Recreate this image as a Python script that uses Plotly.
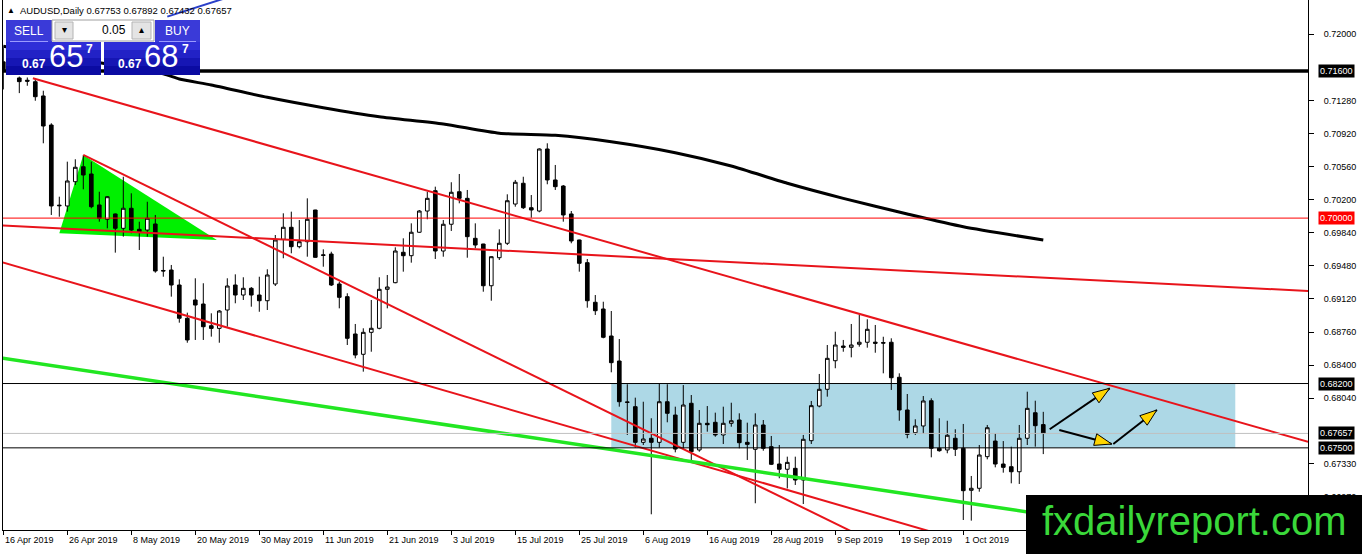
import numpy as np
import pandas as pd
import plotly.graph_objects as go

# AUDUSD daily bars (16 Apr 2019 .. 15 Oct 2019)
opens = [0.71700, 0.71750, 0.71525, 0.71500, 0.71484, 0.71329, 0.71013, 0.70141, 0.70132, 0.70396,
         0.70559, 0.70480, 0.70143, 0.69987, 0.70045, 0.69889, 0.70107, 0.69878, 0.69870, 0.69936,
         0.69430, 0.69435, 0.69272, 0.68910, 0.69109, 0.69065, 0.68829, 0.68800, 0.69000, 0.69272,
         0.69163, 0.69236, 0.69163, 0.69101, 0.69283, 0.69769, 0.69900, 0.69689, 0.69743, 0.70088,
         0.69600, 0.69609, 0.69283, 0.69145, 0.68739, 0.68518, 0.68757, 0.68801, 0.69225, 0.69297,
         0.69628, 0.69591, 0.69846, 0.70077, 0.70298, 0.69642, 0.69933, 0.70287, 0.70215, 0.69780,
         0.69718, 0.69264, 0.69569, 0.69726, 0.70153, 0.70379, 0.70113, 0.70077, 0.70752, 0.70415,
         0.70349, 0.70045, 0.69762, 0.69515, 0.69084, 0.69011, 0.68717, 0.68445, 0.68000, 0.67948,
         0.67560, 0.67604, 0.67560, 0.68002, 0.67857, 0.67560, 0.67985, 0.67477, 0.67767, 0.67778,
         0.67640, 0.67767, 0.67803, 0.67560, 0.67484, 0.67749, 0.67513, 0.67324, 0.67267, 0.67277,
         0.67150, 0.67578, 0.67955, 0.68137, 0.68448, 0.68608, 0.68594, 0.68627, 0.68649, 0.68650,
         0.68645, 0.68649, 0.68268, 0.67912, 0.67665, 0.67738, 0.68013, 0.67495, 0.67477, 0.67604,
         0.67495, 0.67038, 0.67060, 0.67404, 0.67574, 0.67324, 0.67295, 0.67240, 0.67604, 0.67882,
         0.67753]
highs = [0.71850, 0.72060, 0.71540, 0.71530, 0.71521, 0.71386, 0.71032, 0.70233, 0.70614, 0.70640,
         0.70687, 0.70614, 0.70287, 0.70240, 0.70050, 0.70450, 0.70270, 0.69961, 0.70178, 0.70034,
         0.69580, 0.69490, 0.69334, 0.68971, 0.69345, 0.69291, 0.68964, 0.69000, 0.69345, 0.69388,
         0.69356, 0.69250, 0.69362, 0.69443, 0.69816, 0.70052, 0.70070, 0.69979, 0.70215, 0.70090,
         0.69660, 0.69634, 0.69308, 0.69182, 0.68848, 0.68801, 0.69109, 0.69356, 0.69381, 0.69682,
         0.69780, 0.69943, 0.70088, 0.70287, 0.70342, 0.69979, 0.70390, 0.70480, 0.70306, 0.69943,
         0.69720, 0.69585, 0.69878, 0.70259, 0.70415, 0.70450, 0.70251, 0.70759, 0.70814, 0.70578,
         0.70360, 0.70077, 0.69765, 0.69555, 0.69163, 0.69090, 0.68989, 0.68684, 0.68192, 0.68046,
         0.68002, 0.67822, 0.68202, 0.68192, 0.67948, 0.68183, 0.68075, 0.67912, 0.67955, 0.67883,
         0.67948, 0.67991, 0.67876, 0.67774, 0.67876, 0.67803, 0.67629, 0.67531, 0.67404, 0.67404,
         0.67640, 0.68010, 0.68304, 0.68619, 0.68764, 0.68674, 0.68848, 0.68946, 0.68899, 0.68837,
         0.68709, 0.68692, 0.68311, 0.68086, 0.67811, 0.68064, 0.68039, 0.67822, 0.67795, 0.67702,
         0.67760, 0.67194, 0.67531, 0.67749, 0.67658, 0.67574, 0.67513, 0.67749, 0.68111, 0.68013,
         0.67892]
lows = [0.71400, 0.71570, 0.71360, 0.71440, 0.71277, 0.70814, 0.70034, 0.70015, 0.70070, 0.70360,
        0.70313, 0.70107, 0.69961, 0.69889, 0.69624, 0.69798, 0.69835, 0.69653, 0.69798, 0.69406,
        0.69362, 0.69145, 0.68862, 0.68644, 0.68674, 0.68674, 0.68710, 0.68644, 0.68818, 0.69073,
        0.69109, 0.69036, 0.68981, 0.69000, 0.69261, 0.69563, 0.69617, 0.69671, 0.69580, 0.69570,
        0.69471, 0.69261, 0.69018, 0.68619, 0.68474, 0.68329, 0.68546, 0.68790, 0.69018, 0.69291,
        0.69417, 0.69515, 0.69840, 0.69987, 0.69555, 0.69580, 0.69860, 0.70161, 0.69569, 0.69671,
        0.69199, 0.69101, 0.69544, 0.69707, 0.70124, 0.70099, 0.70004, 0.70063, 0.70368, 0.70306,
        0.69961, 0.69726, 0.69417, 0.69025, 0.68946, 0.68692, 0.68322, 0.67948, 0.67640, 0.67502,
        0.67531, 0.66777, 0.67502, 0.67778, 0.67451, 0.67495, 0.67357, 0.67458, 0.67676, 0.67621,
        0.67542, 0.67730, 0.67495, 0.67368, 0.66897, 0.67469, 0.67313, 0.67169, 0.67059, 0.67096,
        0.66889, 0.67542, 0.67941, 0.68057, 0.68366, 0.68546, 0.68485, 0.68601, 0.68590, 0.68535,
        0.68311, 0.68130, 0.67795, 0.67604, 0.67640, 0.67651, 0.67397, 0.67458, 0.67441, 0.67411,
        0.66715, 0.66708, 0.67023, 0.67375, 0.67288, 0.67230, 0.67114, 0.67107, 0.67531, 0.67513,
        0.67432]
closes = [0.71600, 0.71580, 0.71485, 0.71490, 0.71321, 0.71002, 0.70132, 0.70135, 0.70404, 0.70553,
          0.70469, 0.70124, 0.69998, 0.70233, 0.69889, 0.70107, 0.69870, 0.69852, 0.69998, 0.69424,
          0.69425, 0.69272, 0.68910, 0.68674, 0.69054, 0.68818, 0.68800, 0.68989, 0.69261, 0.69163,
          0.69236, 0.69163, 0.69101, 0.69381, 0.69762, 0.69900, 0.69689, 0.69743, 0.69987, 0.69573,
          0.69595, 0.69272, 0.69138, 0.68692, 0.68510, 0.68757, 0.68801, 0.69225, 0.69250, 0.69642,
          0.69591, 0.69846, 0.70077, 0.70215, 0.69642, 0.69933, 0.70281, 0.70215, 0.69798, 0.69707,
          0.69264, 0.69580, 0.69726, 0.70189, 0.70390, 0.70113, 0.70088, 0.70752, 0.70415, 0.70342,
          0.70034, 0.69751, 0.69508, 0.69101, 0.68992, 0.68703, 0.68427, 0.68002, 0.67995, 0.67560,
          0.67596, 0.67560, 0.68002, 0.67876, 0.67487, 0.67966, 0.67458, 0.67767, 0.67752, 0.67640,
          0.67767, 0.67795, 0.67556, 0.67538, 0.67749, 0.67495, 0.67321, 0.67267, 0.67342, 0.67150,
          0.67593, 0.67959, 0.68137, 0.68474, 0.68619, 0.68594, 0.68619, 0.68649, 0.68790, 0.68638,
          0.68640, 0.68263, 0.67912, 0.67647, 0.67738, 0.68010, 0.67495, 0.67469, 0.67637, 0.67484,
          0.67034, 0.67060, 0.67422, 0.67719, 0.67324, 0.67288, 0.67240, 0.67604, 0.67930, 0.67741,
          0.67657]

dates = pd.bdate_range("2019-04-16", periods=len(opens))
bars = np.arange(len(opens))

# moving average (thick black curve), read at a few bars
ma_bar = [0, 10, 20, 22, 26, 33, 40, 47, 55, 62, 69, 76, 84, 91, 98, 105, 113, 120, 130]
ma_val = [0.71870, 0.71720, 0.71570, 0.71514, 0.71448, 0.71314, 0.71201, 0.71103, 0.71024, 0.70923,
          0.70901, 0.70831, 0.70712, 0.70567, 0.70379, 0.70215, 0.70045, 0.69906, 0.69762]

# hand drawn trend lines: (bar, price) at both ends
red_lines = [
    ([3.7, 163.1], [0.71521, 0.67566]),
    ([-0.1, 163.1], [0.69920, 0.69207]),
    ([10, 163.1], [0.70687, 0.64156]),
    ([-0.1, 163.1], [0.69518, 0.65398]),
]
green_line = ([-0.1, 163.1], [0.68475, 0.66344])
blue_line = ([20.5, 28.0], [0.72192, 0.72400])

triangle_bar = [7.0, 10.0, 26.7]
triangle_px = [0.69835, 0.70687, 0.69762]

zone_bar = [76, 154]
zone_px = [0.67500, 0.68200]

arrow_from_bar = [130.8, 132.0, 138.75]
arrow_from_px = [0.67702, 0.67694, 0.67542]
arrow_to_bar = [138.3, 138.55, 144.2]
arrow_to_px = [0.68148, 0.67542, 0.67912]

# horizontal levels and their axis tags
level_px = [0.71600, 0.70000, 0.68200, 0.67657, 0.67500]
level_color = ["black", "red", "black", "#c0c0c0", "black"]
level_width = [3.5, 1, 1, 1, 1]
tag_bg = ["black", "red", "black", "black", "black"]

price_ticks = [0.72, 0.7128, 0.7092, 0.7056, 0.7020, 0.6984, 0.6948, 0.6912, 0.6876, 0.6840,
               0.6804, 0.6733, 0.6697]
date_ticks = ["2019-04-16", "2019-04-26", "2019-05-08", "2019-05-20", "2019-05-30", "2019-06-11",
              "2019-06-21", "2019-07-03", "2019-07-15", "2019-07-25", "2019-08-06", "2019-08-16",
              "2019-08-28", "2019-09-09", "2019-09-19", "2019-10-01"]
date_labels = ["16 Apr 2019", "26 Apr 2019", "8 May 2019", "20 May 2019", "30 May 2019",
               "11 Jun 2019", "21 Jun 2019", "3 Jul 2019", "15 Jul 2019", "25 Jul 2019",
               "6 Aug 2019", "16 Aug 2019", "28 Aug 2019", "9 Sep 2019", "19 Sep 2019", "1 Oct 2019"]
date_idx = [dates.get_loc(pd.Timestamp(d)) for d in date_ticks]

FONT = "Liberation Sans"
W, H = 1362, 554
PL, PR, PT, PB = 3, 1308, 0, 530
X_RANGE = [-0.0375, 163.09]
Y_RANGE = [0.666061, 0.723732]
PX_BAR = (PR - PL) / (X_RANGE[1] - X_RANGE[0])
PX_PRICE = (PB - PT) / (Y_RANGE[1] - Y_RANGE[0])


def fx(x):
    return (x - PL) / (PR - PL)


def fy(y):
    return (PB - y) / (PB - PT)


fig = go.Figure()

fig.add_trace(go.Candlestick(
    x=bars, open=opens, high=highs, low=lows, close=closes,
    increasing=dict(line=dict(color="black", width=1), fillcolor="white"),
    decreasing=dict(line=dict(color="black", width=1), fillcolor="black"),
    whiskerwidth=0, text=[d.strftime("%d %b %Y") for d in dates], hoverinfo="text+y",
))

fig.add_trace(go.Scatter(x=ma_bar, y=ma_val, mode="lines",
                         line=dict(color="black", width=3, shape="spline", smoothing=0.6)))
for xs, ys in red_lines:
    fig.add_trace(go.Scatter(x=xs, y=ys, mode="lines", line=dict(color="#e8141b", width=2)))
fig.add_trace(go.Scatter(x=green_line[0], y=green_line[1], mode="lines",
                         line=dict(color="#22e622", width=3.5)))
fig.add_trace(go.Scatter(x=blue_line[0], y=blue_line[1], mode="lines",
                         line=dict(color="#2a3fc8", width=2)))

shapes = []
# background objects
shapes.append(dict(type="rect", xref="x", yref="y", x0=zone_bar[0], x1=zone_bar[1],
                   y0=zone_px[0], y1=zone_px[1], fillcolor="#add8e6", line=dict(width=0), layer="below"))
tri = "M " + " L ".join(f"{b} {p}" for b, p in zip(triangle_bar, triangle_px)) + " Z"
shapes.append(dict(type="path", xref="x", yref="y", path=tri, fillcolor="#00f000",
                   line=dict(width=0), layer="below"))

# levels
for p, c, w in zip(level_px, level_color, level_width):
    shapes.append(dict(type="line", xref="paper", yref="y", x0=0, x1=1, y0=p, y1=p,
                       line=dict(color=c, width=w), layer="above"))

# arrows: black shaft + yellow head
for xb, yb, xe, ye in zip(arrow_from_bar, arrow_from_px, arrow_to_bar, arrow_to_px):
    shapes.append(dict(type="line", xref="x", yref="y", x0=xb, y0=yb, x1=xe, y1=ye,
                       line=dict(color="black", width=2), layer="above"))
    dx = (xe - xb) * PX_BAR
    dy = (ye - yb) * PX_PRICE
    n = np.hypot(dx, dy)
    ux, uy = dx / n, dy / n
    L, hw = 17, 6
    bx, by = -ux * L, -uy * L
    p1 = (bx - uy * hw, by + ux * hw)
    p2 = (bx + uy * hw, by - ux * hw)
    shapes.append(dict(type="path", xref="x", yref="y", xsizemode="pixel", ysizemode="pixel",
                       xanchor=xe, yanchor=ye,
                       path=f"M 0 0 L {p1[0]:.1f} {p1[1]:.1f} L {p2[0]:.1f} {p2[1]:.1f} Z",
                       fillcolor="#ffd400", line=dict(color="black", width=1), layer="above"))


def box(x0, y0, x1, y1, fill, edge=None):
    return dict(type="rect", xref="paper", yref="paper", x0=fx(x0), x1=fx(x1), y0=fy(y1), y1=fy(y0),
                fillcolor=fill, line=dict(width=1 if edge else 0, color=edge or fill), layer="above")


# one-click trading panel
shapes.append(box(6, 20, 52, 42, "#3a3ad8"))
shapes.append(box(155, 20, 200, 42, "#3a3ad8"))
shapes.append(box(52, 20, 154, 41, "white", "#a0a0a0"))
shapes.append(box(55, 22, 73, 39, "#e4e4e4", "#b4b4b4"))
shapes.append(box(132, 22, 151, 39, "#e4e4e4", "#b4b4b4"))
for (y0, y1), col in zip([(42, 50), (50, 58), (58, 66), (66, 75)],
                         ["#2e2ed8", "#2222c6", "#1616b4", "#0b0ba2"]):
    shapes.append(box(6, y0, 101, y1, col))
    shapes.append(box(104, y0, 200, y1, col))
shapes.append(dict(type="line", xref="paper", yref="paper", x0=fx(10), x1=fx(48), y0=fy(41.5),
                   y1=fy(41.5), line=dict(color="#9a9aff", width=1), layer="above"))
shapes.append(dict(type="line", xref="paper", yref="paper", x0=fx(159), x1=fx(196), y0=fy(41.5),
                   y1=fy(41.5), line=dict(color="#9a9aff", width=1), layer="above"))

# watermark box
shapes.append(box(1026, 495, 1362, 554, "black"))

annotations = []


def text(x, y, s, size, color="black", anchor="left", bold=False, family=FONT, **kw):
    annotations.append(dict(xref="paper", yref="paper", x=fx(x), y=fy(y), text=f"<b>{s}</b>" if bold else s,
                            showarrow=False, xanchor=anchor, yanchor="middle",
                            font=dict(family=family, size=size, color=color), **kw))


text(5, 11, "▲", 8)
text(18, 11, "AUDUSD,Daily 0.67753 0.67892 0.67432 0.67657", 9.5)
text(29, 31, "SELL", 12, "white", "center")
text(177, 31, "BUY", 12, "white", "center")
text(128, 30, "0.05", 12, "black", "right")
text(64, 30, "▾", 10, "black", "center")
text(141, 30, "▴", 10, "black", "center")
text(20, 64, "0.67", 12, "white", bold=True)
text(47, 57, "65", 31, "white")
text(84, 49, "7", 12, "white", bold=True)
text(116, 64, "0.67", 12, "white", bold=True)
text(142, 57, "68", 31, "white")
text(180, 49, "7", 12, "white", bold=True)
text(1194, 521, "fxdailyreport.com", 40, "#3ad83a", "center")

for p, bg in zip(level_px, tag_bg):
    annotations.append(dict(xref="paper", yref="y", x=1, y=p, xanchor="left", yanchor="middle",
                            xshift=10, text=f"{p:.5f}", showarrow=False, bgcolor=bg, borderpad=1,
                            font=dict(family=FONT, size=9, color="white")))

for i, lab in zip(date_idx, date_labels):
    annotations.append(dict(xref="x", yref="paper", x=i, y=0, xanchor="left", yanchor="top",
                            yshift=-3, text=lab, showarrow=False,
                            font=dict(family=FONT, size=9, color="black")))

fig.update_layout(
    template="none",
    width=W, height=H,
    margin=dict(l=PL, r=W - PR, t=PT, b=H - PB, pad=0),
    paper_bgcolor="white", plot_bgcolor="white",
    showlegend=False,
    shapes=shapes,
    annotations=annotations,
    boxgap=0.35,
    xaxis=dict(range=X_RANGE, rangeslider=dict(visible=False), showgrid=False, zeroline=False,
               showline=True, linecolor="black", linewidth=1, mirror=True,
               tickvals=date_idx, ticks="outside", ticklen=4, tickcolor="black",
               showticklabels=False, automargin=False),
    yaxis=dict(range=Y_RANGE, side="right", showgrid=False, zeroline=False,
               showline=True, linecolor="black", linewidth=1, mirror=True,
               tickvals=price_ticks, ticktext=[f"{t:.5f}" for t in price_ticks],
               ticks="outside", ticklen=5, tickcolor="black", ticklabelstandoff=8,
               tickfont=dict(family=FONT, size=9, color="black"), automargin=False),
)

# the page body has a default 8px margin; drop it so the chart sits at the window corner
fig.write_html("out.html", config={"displayModeBar": False},
               post_script="document.body.style.margin='0';")
